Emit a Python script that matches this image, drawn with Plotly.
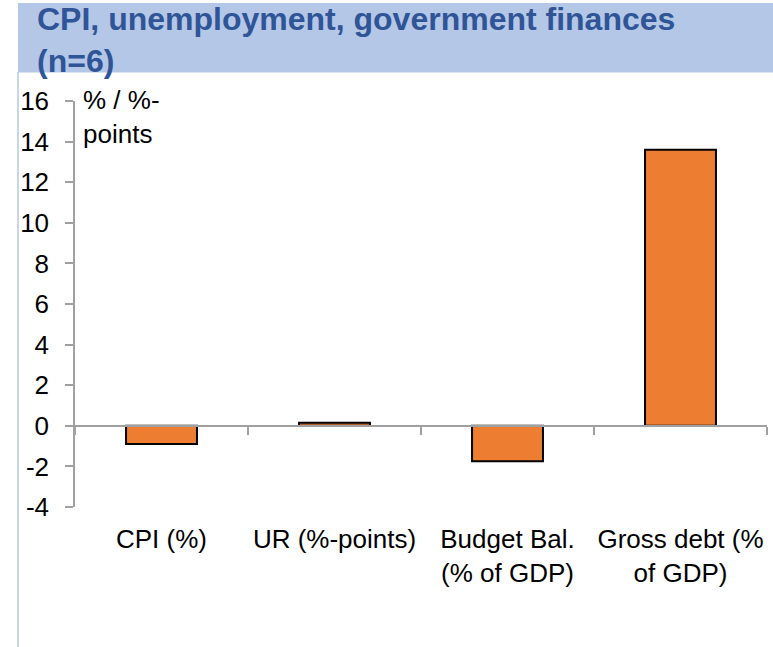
import plotly.graph_objects as go

# Change in key macro indicators (n=6)
categories = ["CPI (%)", "UR (%-points)", "Budget Bal.<br>(% of GDP)", "Gross debt (%<br>of GDP)"]
values = [-0.9, 0.15, -1.75, 13.6]
y_ticks = [-4, -2, 0, 2, 4, 6, 8, 10, 12, 14, 16]
y_tick_text = [str(v) for v in y_ticks]

W, H = 773, 647
L, R, T, B = 75, 6, 101, 140
pw, ph = W - L - R, H - T - B


def px_x(x):
    return (x - L) / pw


def px_y(y):
    return (H - B - y) / ph


BAND = "#B4C7E7"
TITLE = "#2F5597"
AXIS = "#A0A0A0"
FONT = "Liberation Sans, Arial, sans-serif"
FS = 26

fig = go.Figure()
fig.add_trace(go.Bar(
    x=categories, y=values,
    marker=dict(color="#ED7D31", line=dict(color="#000000", width=2)),
    width=0.41, showlegend=False, hoverinfo="skip",
))
# helper trace for the zero-line axis with boundary ticks
fig.add_trace(go.Scatter(x=[0, 3], y=[0, 0], xaxis="x2", mode="lines",
                         line=dict(width=0), showlegend=False, hoverinfo="skip"))

fig.update_layout(
    width=W, height=H,
    margin=dict(l=L, r=R, t=T, b=B),
    paper_bgcolor="white", plot_bgcolor="white",
    font=dict(family=FONT, size=FS, color="#000000"),
    xaxis=dict(
        range=[-0.5, 3.5], showline=False, ticks="", showgrid=False,
        zeroline=False, ticklabelstandoff=14,
        tickfont=dict(size=FS),
    ),
    xaxis2=dict(
        range=[-0.5, 3.5], overlaying="x", anchor="free", position=4 / 20,
        showline=True, linecolor=AXIS, linewidth=1.5,
        tickvals=[-0.5, 0.5, 1.5, 2.5, 3.5], ticks="outside", ticklen=8,
        tickcolor=AXIS, tickwidth=1.5, showticklabels=False, showgrid=False,
        zeroline=False,
    ),
    yaxis=dict(
        range=[-4, 16], tickvals=y_ticks, ticktext=y_tick_text,
        showgrid=False, zeroline=False,
        showline=True, linecolor=AXIS, linewidth=1.5,
        ticks="outside", ticklen=8, tickcolor=AXIS, tickwidth=1.5,
        ticklabelstandoff=11, tickfont=dict(size=FS),
    ),
    bargap=0.59,
    shapes=[
        dict(type="rect", xref="paper", yref="paper",
             x0=px_x(18), x1=px_x(W + 2), y0=px_y(72.5), y1=px_y(3),
             fillcolor=BAND, line=dict(width=0), layer="below"),
        dict(type="line", xref="paper", yref="paper",
             x0=px_x(18), x1=px_x(18), y0=px_y(72), y1=px_y(H + 2),
             line=dict(color=BAND, width=1.5), layer="below"),
    ],
    annotations=[
        dict(text="<b>CPI, unemployment, government finances<br>(n=6)</b>",
             xref="paper", yref="paper", x=px_x(35), y=px_y(-1),
             xanchor="left", yanchor="top", align="left", showarrow=False,
             font=dict(size=32, color=TITLE)),
        dict(text="% / %-<br>points", xref="paper", yref="paper",
             x=px_x(81), y=px_y(83), xanchor="left", yanchor="top",
             align="left", showarrow=False, font=dict(size=FS)),
    ],
)

fig.write_html("out.html")
